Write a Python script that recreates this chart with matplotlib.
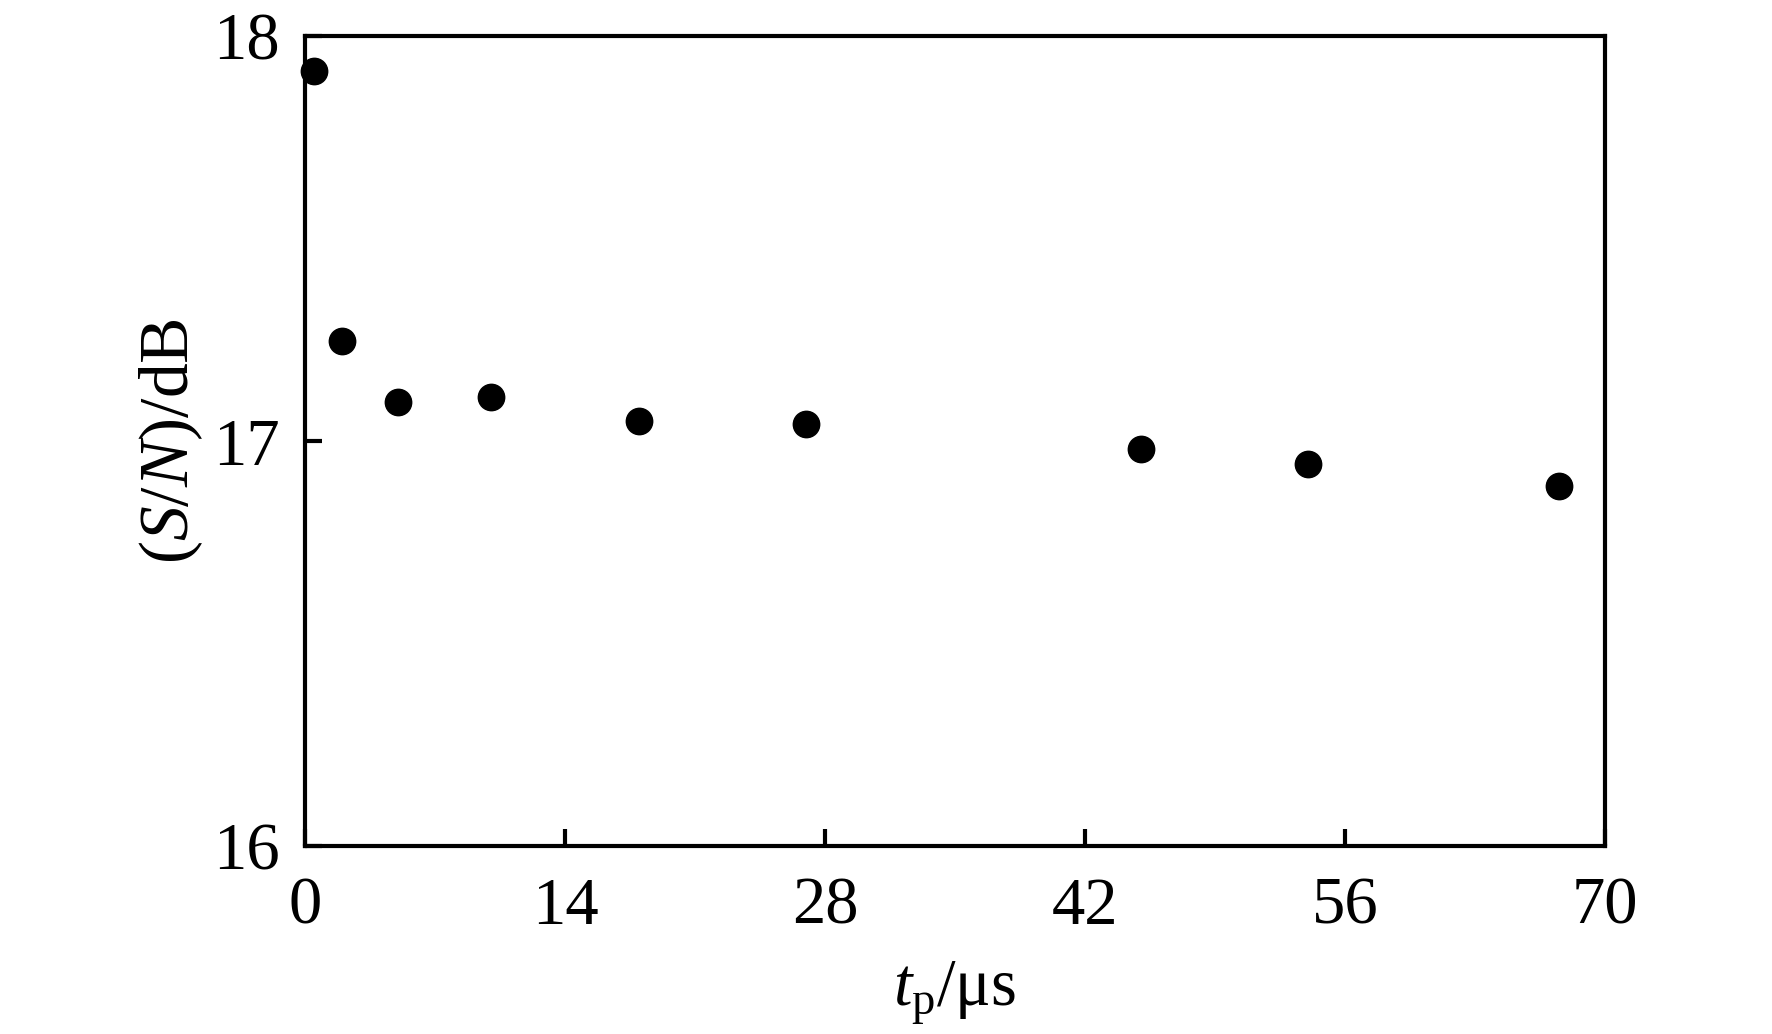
import matplotlib
matplotlib.use("Agg")
import matplotlib.pyplot as plt

# Data
tp_us = [0.5, 2, 5, 10, 18, 27, 45, 54, 67.5]
snr_db = [17.914, 17.248, 17.097, 17.108, 17.050, 17.041, 16.980, 16.943, 16.890]
x_ticks = [0, 14, 28, 42, 56, 70]
y_ticks = [16, 17, 18]

plt.rcParams['font.family'] = ['Liberation Serif', 'DejaVu Serif']
plt.rcParams['mathtext.fontset'] = 'custom'
plt.rcParams['mathtext.rm'] = 'Liberation Serif'
plt.rcParams['mathtext.it'] = 'Liberation Serif:italic'
plt.rcParams['mathtext.bf'] = 'Liberation Serif:bold'

fig = plt.figure(figsize=(17.72, 10.34), dpi=100)
ax = fig.add_axes([0.1721, 0.1818, 0.9058 - 0.1721, 0.9652 - 0.1818])

ax.plot(tp_us, snr_db, linestyle='none', marker='o', markersize=19,
        color='black', clip_on=False)

ax.set_xlim(0, 70)
ax.set_ylim(16, 18)
ax.set_xticks(x_ticks)
ax.set_yticks(y_ticks)
ax.tick_params(axis='both', direction='in', length=12, width=3,
               labelsize=48, top=False, right=False)
ax.tick_params(axis='x', pad=22)
ax.tick_params(axis='y', pad=18)
for s in ax.spines.values():
    s.set_linewidth(3)

ax.set_xlabel('$t_{\\mathrm{p}}$/μs', fontsize=48, labelpad=16)
ax.set_ylabel('$(\\mathit{S}/\\mathit{N})$/dB', fontsize=50, labelpad=6)

fig.savefig('out.png', dpi=100)
